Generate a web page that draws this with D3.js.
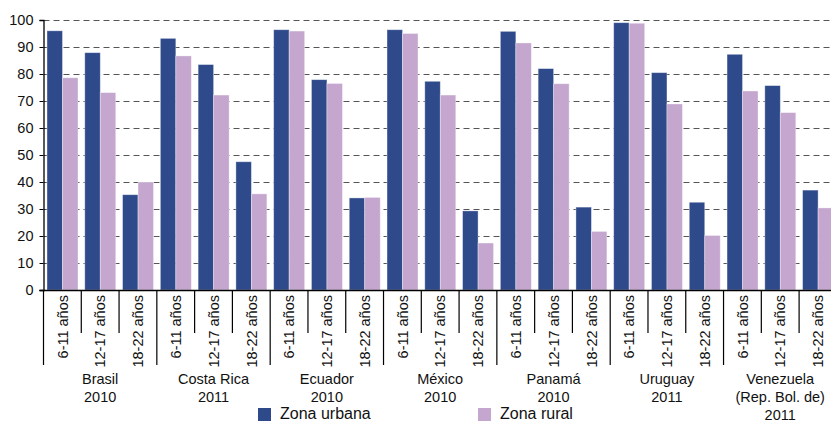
<!DOCTYPE html>
<html><head><meta charset="utf-8">
<script src="https://cdn.jsdelivr.net/npm/d3@7"></script>
<style>body{margin:0;background:#fff}svg{display:block;font-family:"Liberation Sans",Arial,sans-serif}</style>
</head><body><svg id="c" width="831" height="423"></svg>
<script>
const countries = [["Brasil","2010"],["Costa Rica","2011"],["Ecuador","2010"],["México","2010"],["Panamá","2010"],["Uruguay","2011"],["Venezuela","(Rep. Bol. de)","2011"]];
const ages = ["6-11 años","12-17 años","18-22 años"];
const urbana = [96,87.9,35.3, 93.2,83.5,47.5, 96.4,77.9,34.1, 96.4,77.3,29.3, 95.8,82,30.7, 99,80.5,32.5, 87.3,75.7,37];
const rural  = [78.6,73.1,40, 86.7,72.2,35.6, 95.9,76.5,34.3, 95,72.2,17.4, 91.5,76.4,21.7, 98.8,68.9,20.2, 73.7,65.7,30.4];
const yTicks = [0,10,20,30,40,50,60,70,80,90,100];
const seriesNames = ["Zona urbana","Zona rural"];
const colors = ["#2F4A8B","#C4A6CE"];

const svg = d3.select("#c");
const x0 = 43.5, x1 = 43.5 + 21*37.78;
const y = d3.scaleLinear().domain([0,100]).range([290,20]);
const keys = [];
countries.forEach((c,i)=>ages.forEach((a,j)=>keys.push(i+"|"+j)));
const x = d3.scaleBand().domain(keys).range([x0,x1]);
const step = x.step();
const xi = d3.scaleBand().domain([0,1]).range([3.5, step-3.3]);

// gridlines
svg.append("g").selectAll("line").data(yTicks.filter(d=>d>0)).join("line")
  .attr("x1",x0).attr("x2",831).attr("y1",d=>Math.round(y(d))+0.5).attr("y2",d=>Math.round(y(d))+0.5)
  .attr("stroke","#555").attr("stroke-width",1).attr("stroke-dasharray","6,4");

// bars
const data = keys.map((k,i)=>({k, v:[urbana[i], rural[i]]}));
const g = svg.append("g");
data.forEach(d=>{
  d.v.forEach((v,s)=>{
    g.append("rect").attr("x",x(d.k)+xi(s)).attr("width",xi.bandwidth())
      .attr("y",y(v)).attr("height",y(0)-y(v)).attr("fill",colors[s])
      .attr("stroke","rgba(255,255,255,0.45)").attr("stroke-width",0.8);
  });
});

// y axis
const ya = d3.axisLeft(y).tickValues(yTicks).tickSize(4).tickPadding(6);
const yg = svg.append("g").attr("transform",`translate(${x0},0)`).call(ya);
yg.select(".domain").attr("stroke","#000").attr("stroke-width",1.3);
yg.selectAll(".tick line").attr("stroke","#000");
yg.selectAll("text").attr("font-size","14.5px").attr("fill","#111").attr("font-family","Liberation Sans, Arial, sans-serif");

// x axis baseline
svg.append("line").attr("x1",x0-4).attr("x2",831).attr("y1",290.5).attr("y2",290.5).attr("stroke","#000").attr("stroke-width",1.3);

// separators
keys.forEach((k,i)=>{
  const long = i%3===0;
  svg.append("line").attr("x1",x(k)).attr("x2",x(k)).attr("y1",290).attr("y2",long?365:333)
    .attr("stroke","#000").attr("stroke-width",1.2);
});
// age labels
keys.forEach((k,i)=>{
  const cx = x(k)+step/2;
  svg.append("text").attr("transform",`translate(${cx},295) rotate(-90)`)
    .attr("text-anchor","end").attr("dy","0.36em").attr("font-size","14.5px").attr("fill","#111")
    .text(ages[i%3]);
});
// country labels
countries.forEach((c,i)=>{
  const cx = x(i+"|1")+step/2;
  const t = svg.append("text").attr("text-anchor","middle").attr("font-size","14.5px").attr("fill","#111");
  c.forEach((line,j)=>t.append("tspan").attr("x",cx).attr("y",384+j*18).text(line));
});

// legend
const legX = [258,478];
seriesNames.forEach((n,s)=>{
  svg.append("rect").attr("x",legX[s]).attr("y",408).attr("width",13).attr("height",13).attr("fill",colors[s]);
  svg.append("text").attr("x",legX[s]+22).attr("y",419).attr("font-size","16px").attr("fill","#111").text(n);
});
</script></body></html>
